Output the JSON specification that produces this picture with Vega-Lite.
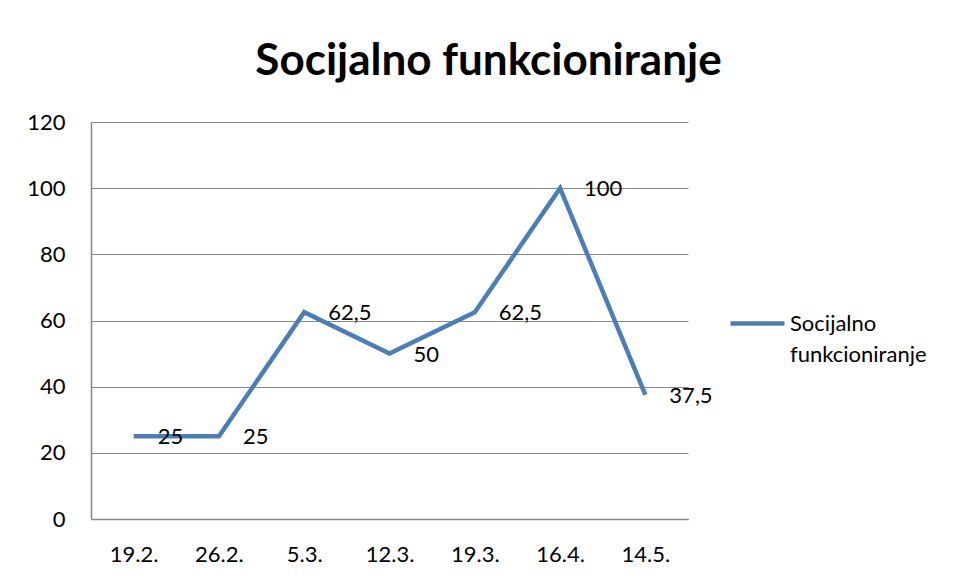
{
  "$schema": "https://vega.github.io/schema/vega-lite/v6.json",
  "width": 597,
  "height": 397,
  "autosize": {"type": "none"},
  "padding": {"left": 91, "top": 122, "right": 271, "bottom": 59},
  "background": "white",
  "title": {"text": "Socijalno funkcioniranje", "anchor": "middle", "frame": "group", "dx": 99, "dy": 51, "offset": 43, "baseline": "alphabetic", "font": "Lato", "fontSize": 44, "fontWeight": "bold", "color": "#000000"},
  "data": {"values": [
    {"datum": "19.2.", "value": 25, "series": "Socijalno funkcioniranje"},
    {"datum": "26.2.", "value": 25, "series": "Socijalno funkcioniranje"},
    {"datum": "5.3.", "value": 62.5, "series": "Socijalno funkcioniranje"},
    {"datum": "12.3.", "value": 50, "series": "Socijalno funkcioniranje"},
    {"datum": "19.3.", "value": 62.5, "series": "Socijalno funkcioniranje"},
    {"datum": "16.4.", "value": 100, "series": "Socijalno funkcioniranje"},
    {"datum": "14.5.", "value": 37.5, "series": "Socijalno funkcioniranje"}
  ]},
  "encoding": {
    "x": {"field": "datum", "type": "ordinal", "sort": null, "scale": {"type": "point", "padding": 0.5},
      "axis": {"title": null, "labelAngle": 0, "ticks": false, "domainColor": "#868686", "domainWidth": 1.5, "labelFont": "Lato", "labelFontSize": 22, "labelPadding": 25, "labelColor": "#000000", "grid": false}},
    "y": {"field": "value", "type": "quantitative", "scale": {"domain": [0, 120], "nice": false},
      "axis": {"title": null, "values": [0, 20, 40, 60, 80, 100, 120], "ticks": false, "labelPadding": 26, "labelFont": "Lato", "labelFontSize": 22, "labelColor": "#000000", "gridColor": "#868686", "gridWidth": 1.2, "domainColor": "#868686", "domainWidth": 1.5}}
  },
  "layer": [
    {"mark": {"type": "line", "strokeWidth": 4.5},
     "encoding": {"color": {"field": "series", "type": "nominal", "scale": {"range": ["#4a7ebb"]},
       "legend": {"title": null, "orient": "none", "legendX": 637, "legendY": 172, "symbolType": "stroke", "symbolSize": 2916, "symbolStrokeWidth": 4.5, "labelFont": "Lato", "labelFontSize": 22, "labelColor": "#000000", "labelExpr": "split(datum.label, ' ')", "labelOffset": 3, "padding": 0}}}},
    {"mark": {"type": "text", "align": "left", "baseline": "middle", "dx": 24, "dy": 1, "font": "Lato", "fontSize": 22, "color": "#000000"},
     "encoding": {"text": {"field": "value", "type": "quantitative", "format": "~f"}}}
  ],
  "config": {
    "view": {"stroke": null},
    "style": {"guide-label": {"lineHeight": 31}},
    "locale": {"number": {"decimal": ",", "thousands": ".", "grouping": [3], "currency": ["", " €"]}}
  }
}
